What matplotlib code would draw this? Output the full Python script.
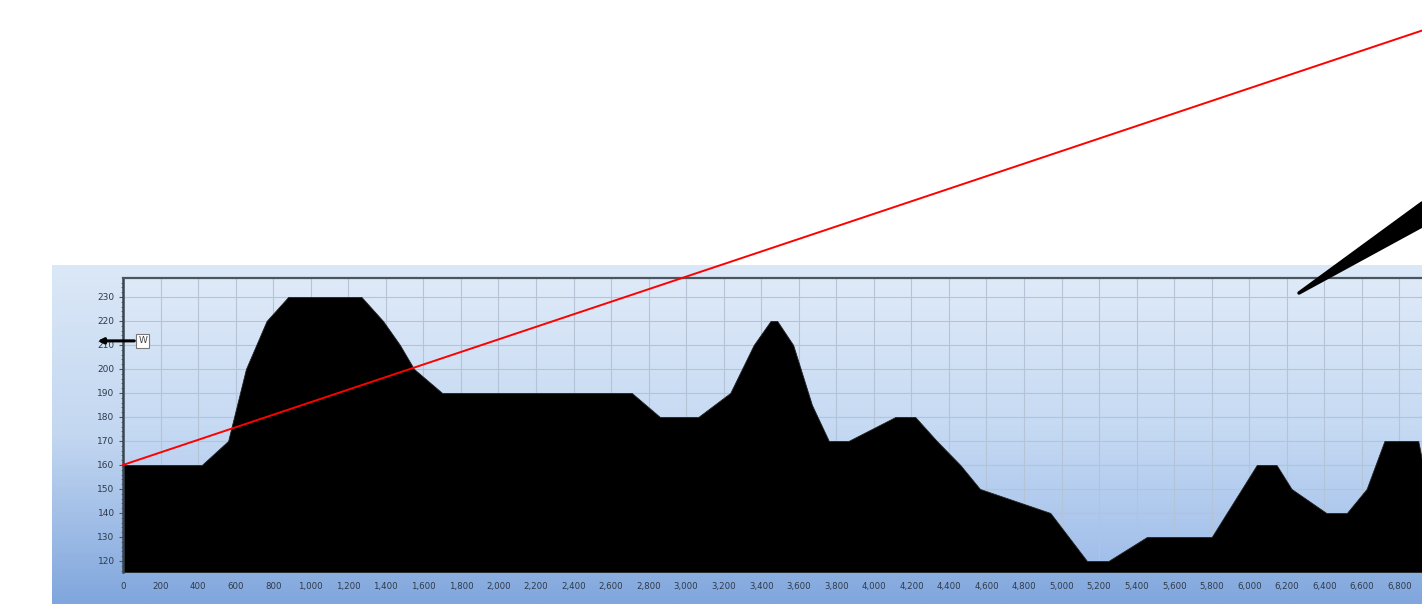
import numpy as np
import matplotlib
matplotlib.use('Agg')
import matplotlib.pyplot as plt
from matplotlib.patches import Polygon
from matplotlib.ticker import FuncFormatter, MultipleLocator

# elevation profile (distance, elevation)
dist = [0, 420, 560, 655, 710, 765, 880, 1270, 1385, 1475, 1550, 1700,
        2710, 2860, 3065, 3235, 3360, 3450, 3485, 3570, 3670, 3760, 3865,
        4115, 4220, 4335, 4460, 4565, 4940, 5135, 5250, 5455, 5800, 5880,
        6040, 6145, 6225, 6410, 6520, 6625, 6720, 6900, 6925]
elev = [160, 160, 170, 200, 210, 220, 230, 230, 220, 210, 200, 190,
        190, 180, 180, 190, 210, 220, 220, 210, 185, 170, 170,
        180, 180, 170, 160, 150, 140, 120, 120, 130, 130, 140,
        160, 160, 150, 140, 140, 150, 170, 170, 160]

# red sight line
red_x = [0, 6920]
red_y = [160, 341]

x_ticks = list(range(0, 7000, 200))
y_ticks = list(range(120, 240, 10))

W, H = 1422, 604
fig = plt.figure(figsize=(W / 100, H / 100), dpi=100, facecolor='white')

# outer blue panel with gradient
panel = fig.add_axes([52 / W, 0, 1 - 52 / W, (H - 265) / H])
panel.axis('off')
grad = np.linspace(0, 1, 256).reshape(-1, 1)
panel_cmap = matplotlib.colors.LinearSegmentedColormap.from_list(
    'panel', ['#dbe8f7', '#c3d7f1', '#80a6dd'])
panel.imshow(grad, aspect='auto', cmap=panel_cmap, extent=[0, 1, 0, 1], origin='upper')
panel.set_xlim(0, 1)
panel.set_ylim(0, 1)

ymin, ymax = 115.4, 237.9
xmin, xmax = 0, 6920
ax = fig.add_axes([123 / W, 1 - 572 / H, 1 - 123 / W, (572 - 278) / H])
plot_cmap = matplotlib.colors.LinearSegmentedColormap.from_list(
    'plot', ['#dfeaf8', '#c6daf3', '#9fbdea'])
ax.imshow(grad, aspect='auto', cmap=plot_cmap, extent=[xmin, xmax, ymin, ymax],
          origin='upper', zorder=0)

ax.set_xlim(xmin, xmax)
ax.set_ylim(ymin, ymax)
ax.set_xticks(x_ticks)
ax.set_yticks(y_ticks)
ax.xaxis.set_major_formatter(FuncFormatter(lambda v, p: f'{int(v):,}'))
ax.yaxis.set_minor_locator(MultipleLocator(2))
ax.set_axisbelow(True)
ax.grid(True, color='#b4c4d6', lw=0.8)

ax.fill_between(dist, elev, ymin, color='black', lw=0.6, edgecolor='#222222', zorder=2)
ax.plot(red_x, red_y, color='#ff0000', lw=1.4, clip_on=False, zorder=5)

# waypoint marker
ax.annotate('', xy=(-150, 211.7), xytext=(75, 211.7),
            arrowprops=dict(arrowstyle='-|>', lw=2.2, color='black',
                            mutation_scale=8),
            annotation_clip=False, zorder=6)
ax.text(105, 211.7, 'W', fontsize=6.5, color='#444444', ha='center', va='center',
        bbox=dict(boxstyle='square,pad=0.25', fc='white', ec='#777777', lw=0.8),
        zorder=7, clip_on=False)

for s in ['right', 'bottom']:
    ax.spines[s].set_visible(False)
ax.spines['top'].set_color('#4a5560')
ax.spines['top'].set_linewidth(1.6)
ax.spines['left'].set_color('#3a4550')
ax.spines['left'].set_linewidth(1.8)

ax.tick_params(axis='x', length=0, pad=7, labelsize=6.2, labelcolor='#2e3a48')
ax.tick_params(axis='y', which='major', length=3, width=0.8, color='#555555',
               pad=3, labelsize=6.5, labelcolor='#2e3a48')
ax.tick_params(axis='y', which='minor', length=1.5, width=0.6, color='#666666')

# pointer shape at top right
pts = [(1299, 293), (1422, 203), (1422, 226)]
pointer = Polygon([(x / W, 1 - y / H) for x, y in pts], closed=True,
                  transform=fig.transFigure, fc='black', ec='black', lw=2.5,
                  joinstyle='round', clip_on=False, zorder=10)
fig.patches.append(pointer)

fig.savefig('out.png', dpi=100, facecolor='white')
